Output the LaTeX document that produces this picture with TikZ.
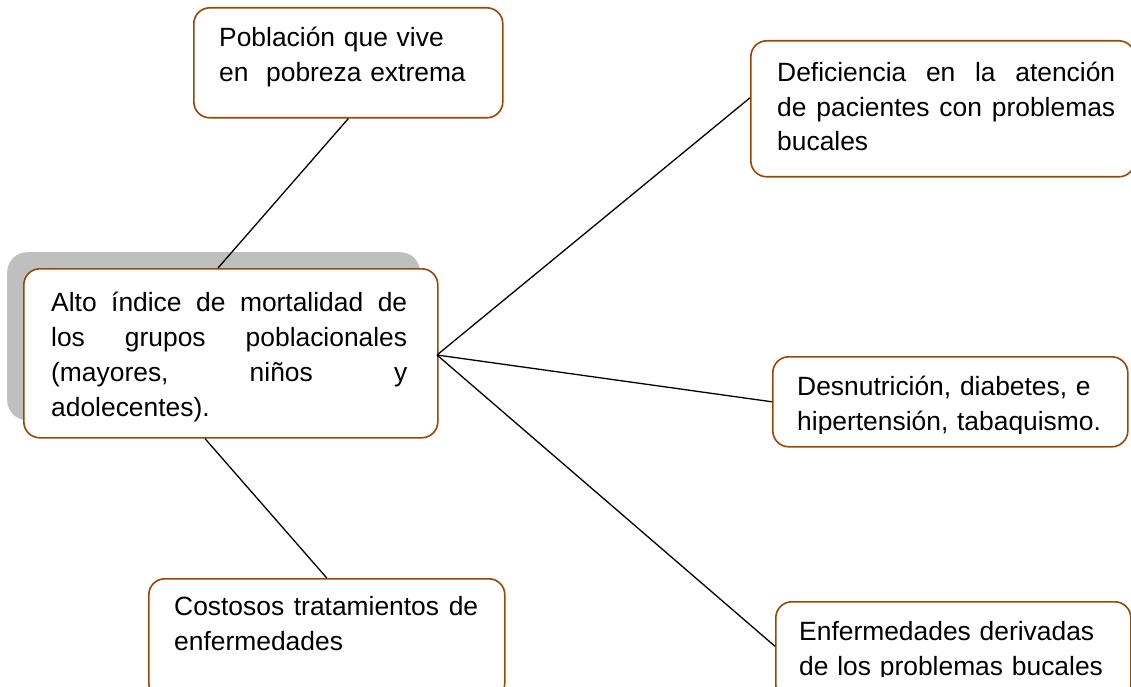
\documentclass[tikz,border=0pt]{standalone}
\usepackage{fontspec}
\setmainfont{Liberation Sans}
\definecolor{boxbrown}{RGB}{152,72,6}
\definecolor{shadowgray}{RGB}{191,191,191}
\newcommand{\hf}{\hspace{0pt plus 1fill}}
\begin{document}
\begin{tikzpicture}[x=1pt,y=-1pt,
  box/.style={draw=boxbrown, line width=1.6pt, rounded corners=16pt, fill=white, anchor=north west, inner sep=0pt},
  shadowbox/.style={fill=shadowgray, rounded corners=20pt, anchor=north west, inner sep=0pt},
  txt/.style={inner sep=0pt, anchor=base west, text width=#1, align=left},
  link/.style={draw=black, line width=1.3pt}]
\useasboundingbox (0,0) rectangle (1131,687);

% shadow and boxes
\node[shadowbox, minimum width=413pt, minimum height=168pt] (shadow) at (7,252) {};
\node[box, minimum width=309pt, minimum height=110pt] (top) at (193,7) {};
\node[box, minimum width=414pt, minimum height=169pt] (central) at (23,268) {};
\node[box, minimum width=384pt, minimum height=136pt] (def) at (750,40) {};
\node[box, minimum width=355pt, minimum height=90pt] (desn) at (772,356) {};
\node[box, minimum width=355pt, minimum height=99pt] (enf) at (775,601) {};
\node[box, minimum width=356pt, minimum height=120pt] (cost) at (148,578) {};

% texts
\node[txt=280pt, font=\fontsize{26.4}{35}\selectfont] (ttop) at (219,47)
  {Población que vive\\en\ \ pobreza extrema};
\node[txt=356pt, font=\fontsize{26.4}{35.3}\selectfont] (tcentral) at (51,311)
  {\makebox[356pt]{Alto\hf{} índice\hf{} de\hf{} mortalidad\hf{} de}\\
   \makebox[356pt]{los\hf{} grupos\hf{} poblacionales}\\
   \makebox[356pt]{(mayores,\hf{} niños\hf{} y}\\
   adolecentes).};
\node[txt=338pt, font=\fontsize{26.4}{34.3}\selectfont] (tdef) at (777,82)
  {\makebox[338pt]{Deficiencia\hf{} en\hf{} la\hf{} atención}\\
   \makebox[338pt]{de\hf{} pacientes\hf{} con\hf{} problemas}\\
   bucales};
\begin{scope}
  \clip (770,350) rectangle (1130,433);
  \node[txt=320pt, font=\fontsize{26.4}{35}\selectfont] (tdesn) at (797,395)
    {Desnutrición, diabetes, e\\hipertensión, tabaquismo.};
\end{scope}
\begin{scope}
  \clip (770,595) rectangle (1130,676);
  \node[txt=320pt, font=\fontsize{26.4}{35}\selectfont] (tenf) at (799,640)
    {Enfermedades derivadas\\de los problemas bucales};
\end{scope}
\node[txt=304pt, font=\fontsize{26.4}{35}\selectfont] (tcost) at (174,615)
  {\makebox[304pt]{Costosos\hf{} tratamientos\hf{} de}\\enfermedades};

% connectors
\coordinate (hub) at (437,355);
\draw[link] (top.south) -- ([xshift=195pt]central.north west);
\draw[link] ([xshift=182pt]central.south west) -- (cost.north);
\draw[link] (hub) -- ([yshift=11pt]def.west);
\draw[link] (hub) -- (desn.west);
\draw[link] (hub) -- ([yshift=5pt]enf.west);
\end{tikzpicture}
\end{document}
